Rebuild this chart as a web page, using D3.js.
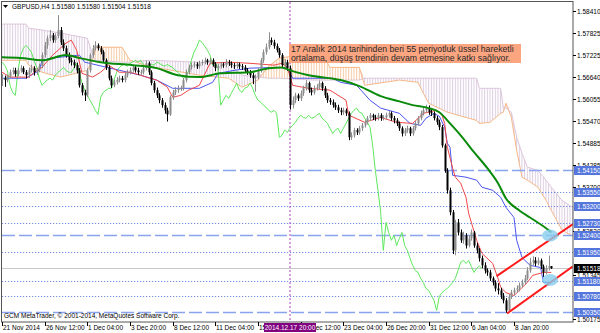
<!DOCTYPE html>
<html>
<head>
<meta charset="utf-8">
<script src="https://cdnjs.cloudflare.com/ajax/libs/d3/7.8.5/d3.min.js"></script>
<style>
body{margin:0;background:#fff}
svg{display:block}
text{font-family:"Liberation Sans",Arial,sans-serif}
</style>
</head>
<body>
<script>
// GBPUSD H4, one value per bar (bar 0 = 21 Nov 2014 20:00)
const closes = [
1.5661,1.5656,1.5666,1.5677,1.5682,1.5672,1.5682,1.5688,1.5677,1.5669,
1.5682,1.5688,1.5677,1.5682,1.5693,1.5723,1.5749,1.5768,1.5776,1.5763,
1.5774,1.5790,1.5757,1.5741,1.5723,1.5709,1.5704,1.5696,1.5682,1.5642,
1.5623,1.5615,1.5682,1.5723,1.5741,1.5749,1.5741,1.5731,1.5709,1.5690,
1.5661,1.5642,1.5650,1.5656,1.5661,1.5656,1.5669,1.5677,1.5682,1.5690,
1.5682,1.5677,1.5677,1.5688,1.5701,1.5677,1.5648,1.5629,1.5615,1.5602,
1.5589,1.5575,1.5564,1.5610,1.5623,1.5629,1.5634,1.5634,1.5656,1.5677,
1.5690,1.5696,1.5698,1.5693,1.5701,1.5704,1.5709,1.5704,1.5709,1.5698,
1.5688,1.5693,1.5698,1.5696,1.5704,1.5701,1.5696,1.5693,1.5698,1.5693,
1.5690,1.5682,1.5677,1.5669,1.5661,1.5664,1.5682,1.5709,1.5731,1.5744,
1.5763,1.5757,1.5747,1.5736,1.5723,1.5696,1.5704,1.5688,1.5589,1.5602,
1.5615,1.5607,1.5621,1.5634,1.5648,1.5629,1.5623,1.5634,1.5637,1.5648,
1.5634,1.5615,1.5602,1.5597,1.5589,1.5583,1.5575,1.5570,1.5575,1.5567,
1.5503,1.5508,1.5522,1.5516,1.5527,1.5535,1.5543,1.5554,1.5562,1.5556,
1.5554,1.5562,1.5554,1.5556,1.5562,1.5567,1.5554,1.5548,1.5540,1.5527,
1.5513,1.5522,1.5527,1.5513,1.5527,1.5540,1.5554,1.5567,1.5575,1.5581,
1.5570,1.5567,1.5554,1.5543,1.5530,1.5481,1.5414,1.5361,1.5302,1.5200,
1.5275,1.5248,1.5227,1.5240,1.5213,1.5232,1.5248,1.5213,1.5200,1.5179,
1.5160,1.5146,1.5141,1.5125,1.5114,1.5098,1.5093,1.5079,1.5066,1.5039,
1.5077,1.5087,1.5093,1.5098,1.5106,1.5114,1.5125,1.5146,1.5168,1.5173,
1.5165,1.5173,1.5157,1.5141,1.5152,1.5158,1.51518
]
const highs = [
1.5672,1.5668,1.5671,1.5684,1.5690,1.5689,1.5688,1.5696,1.5693,1.5683,
1.5690,1.5697,1.5693,1.5689,1.5700,1.5730,1.5758,1.5775,1.5790,1.5782,
1.5781,1.5830,1.5798,1.5765,1.5748,1.5730,1.5716,1.5711,1.5703,1.5688,
1.5648,1.5630,1.5688,1.5728,1.5750,1.5760,1.5754,1.5747,1.5736,1.5714,
1.5695,1.5668,1.5657,1.5664,1.5668,1.5667,1.5675,1.5684,1.5690,1.5697,
1.5696,1.5689,1.5684,1.5694,1.5708,1.5706,1.5682,1.5654,1.5636,1.5621,
1.5608,1.5596,1.5582,1.5615,1.5630,1.5637,1.5642,1.5641,1.5662,1.5684,
1.5697,1.5703,1.5706,1.5704,1.5708,1.5711,1.5716,1.5713,1.5716,1.5714,
1.5704,1.5699,1.5705,1.5703,1.5712,1.5710,1.5706,1.5702,1.5705,1.5703,
1.5699,1.5696,1.5688,1.5683,1.5675,1.5671,1.5688,1.5715,1.5738,1.5754,
1.5784,1.5770,1.5764,1.5754,1.5742,1.5728,1.5712,1.5710,1.5695,1.5612,
1.5622,1.5620,1.5628,1.5641,1.5656,1.5652,1.5636,1.5641,1.5645,1.5655,
1.5652,1.5640,1.5622,1.5608,1.5604,1.5596,1.5590,1.5582,1.5582,1.5580,
1.5572,1.5516,1.5528,1.5527,1.5533,1.5541,1.5549,1.5560,1.5568,1.5566,
1.5563,1.5568,1.5567,1.5562,1.5569,1.5574,1.5572,1.5560,1.5554,1.5545,
1.5532,1.5528,1.5534,1.5531,1.5533,1.5546,1.5560,1.5574,1.5583,1.5590,
1.5588,1.5578,1.5572,1.5560,1.5550,1.5536,1.5486,1.5420,1.5368,1.5308,
1.5282,1.5284,1.5256,1.5250,1.5246,1.5240,1.5256,1.5252,1.5220,1.5206,
1.5186,1.5168,1.5152,1.5148,1.5130,1.5120,1.5112,1.5100,1.5086,1.5072,
1.5083,1.5094,1.5100,1.5106,1.5114,1.5122,1.5134,1.5155,1.5180,1.5184,
1.5182,1.5181,1.5178,1.5162,1.5160,1.5186,1.51580
]
const lows = [
1.5640,1.5638,1.5650,1.5660,1.5671,1.5665,1.5666,1.5676,1.5672,1.5660,
1.5662,1.5676,1.5668,1.5670,1.5677,1.5688,1.5716,1.5740,1.5760,1.5756,
1.5756,1.5768,1.5750,1.5734,1.5716,1.5701,1.5695,1.5688,1.5674,1.5636,
1.5615,1.5600,1.5610,1.5676,1.5716,1.5735,1.5735,1.5725,1.5702,1.5683,
1.5655,1.5635,1.5637,1.5644,1.5650,1.5650,1.5650,1.5663,1.5671,1.5676,
1.5676,1.5670,1.5670,1.5671,1.5682,1.5670,1.5642,1.5622,1.5608,1.5594,
1.5582,1.5566,1.5545,1.5560,1.5603,1.5616,1.5622,1.5627,1.5628,1.5650,
1.5671,1.5684,1.5689,1.5686,1.5687,1.5695,1.5698,1.5697,1.5698,1.5692,
1.5680,1.5682,1.5687,1.5689,1.5690,1.5694,1.5689,1.5686,1.5687,1.5686,
1.5683,1.5675,1.5670,1.5662,1.5645,1.5625,1.5658,1.5676,1.5702,1.5724,
1.5738,1.5750,1.5740,1.5730,1.5716,1.5690,1.5690,1.5681,1.5577,1.5580,
1.5594,1.5600,1.5600,1.5614,1.5628,1.5622,1.5615,1.5617,1.5628,1.5631,
1.5627,1.5608,1.5595,1.5590,1.5582,1.5576,1.5568,1.5562,1.5563,1.5560,
1.5495,1.5496,1.5502,1.5509,1.5510,1.5520,1.5529,1.5537,1.5547,1.5549,
1.5547,1.5548,1.5547,1.5548,1.5550,1.5555,1.5547,1.5540,1.5533,1.5520,
1.5505,1.5506,1.5515,1.5506,1.5507,1.5521,1.5534,1.5548,1.5561,1.5569,
1.5563,1.5560,1.5548,1.5536,1.5522,1.5475,1.5408,1.5352,1.5294,1.5190,
1.5187,1.5240,1.5220,1.5218,1.5205,1.5208,1.5226,1.5207,1.5192,1.5170,
1.5152,1.5138,1.5132,1.5118,1.5106,1.5090,1.5082,1.5070,1.5058,1.5033,
1.5036,1.5070,1.5080,1.5086,1.5090,1.5100,1.5108,1.5120,1.5140,1.5160,
1.5158,1.5160,1.5150,1.5128,1.5136,1.5146,1.51504
]

// indicator vertices as [bar, price]
const tenkan = [[0,1.5677],[3,1.5664],[10,1.5664],[13,1.5682],[15,1.5690],[19,1.5723],[24,1.5755],[26,1.5763],[28,1.5736],[30,1.5674],[34,1.5664],[37,1.5677],[40,1.5696],[44,1.5677],[48,1.5677],[52,1.5669],[54,1.5664],[58,1.5656],[62,1.5637],[64,1.5610],[67,1.5615],[70,1.5629],[74,1.5642],[78,1.5701],[85,1.5704],[93,1.5701],[102,1.5696],[105,1.5701],[107,1.5690],[109,1.5642],[115,1.5634],[123,1.5629],[129,1.5602],[130,1.5562],[136,1.5543],[142,1.5556],[148,1.5543],[154,1.5540],[158,1.5567],[163,1.5575],[165,1.5562],[166,1.5540],[167,1.5476],[169,1.5420],[170,1.5396],[172,1.5380],[174,1.5342],[175,1.5299],[178,1.5227],[180,1.5192],[184,1.5165],[186,1.5125],[187,1.5101],[189,1.5087],[192,1.5079],[194,1.5093],[197,1.5114],[199,1.5133],[203,1.5141],[206,1.5141]]

const kijun = [[0,1.5661],[9,1.5661],[14,1.5682],[15,1.5709],[19,1.5715],[29,1.5723],[31,1.5704],[52,1.5669],[58,1.5656],[64,1.5634],[74,1.5634],[79,1.5650],[81,1.5674],[87,1.5682],[93,1.5688],[103,1.5690],[107,1.5688],[109,1.5661],[124,1.5661],[127,1.5650],[133,1.5642],[138,1.5602],[142,1.5581],[149,1.5567],[153,1.5540],[157,1.5535],[159,1.5554],[162,1.5567],[164,1.5559],[166,1.5530],[167,1.5487],[168,1.5476],[169,1.5401],[174,1.5396],[178,1.5388],[180,1.5369],[184,1.5361],[187,1.5342],[189,1.5315],[192,1.5288],[193,1.5227],[195,1.5181],[198,1.5160],[202,1.5154],[203,1.5114],[206,1.5114]]

const ema55 = [[0,1.5717],[7,1.5715],[15,1.5709],[24,1.5723],[29,1.5715],[37,1.5704],[49,1.5696],[58,1.5688],[66,1.5669],[74,1.5664],[82,1.5674],[93,1.5677],[100,1.5688],[105,1.5690],[108,1.5682],[115,1.5669],[127,1.5656],[134,1.5640],[142,1.5613],[149,1.5599],[154,1.5589],[160,1.5581],[164,1.5570],[168,1.5540],[172,1.5508],[177,1.5463],[182,1.5420],[186,1.5380],[189,1.5339],[194,1.5307],[198,1.5288],[205,1.5254],[206,1.5248]]

// Senkou spans (already shifted 26 bars ahead)
const spanBars = [0,9,10,15,22,32,34,35,45,48,55,74,85,90,96,100,104,117,120,123,134,136,149,156,158,160,167,178,179,183,187,188,189,191,193,195,197,201,204,206,210,214]
const spanA = [1.5709,1.5709,1.5696,1.5677,1.5664,1.5682,1.5709,1.5744,1.5744,1.5709,1.5693,1.5669,1.5661,1.5637,1.5656,1.5693,1.5715,1.5728,1.5728,1.5690,1.5690,1.5642,1.5656,1.5650,1.5621,1.5594,1.5570,1.5548,1.5540,1.5543,1.5567,1.5570,1.5594,1.5556,1.5468,1.5396,1.5388,1.5369,1.5334,1.5307,1.5254,1.5238]
const spanB = [1.5806,1.5806,1.5795,1.5790,1.5782,1.5768,1.5723,1.5709,1.5704,1.5704,1.5709,1.5704,1.5701,1.5669,1.5664,1.5661,1.5661,1.5656,1.5656,1.5656,1.5656,1.5661,1.5661,1.5661,1.5661,1.5661,1.5661,1.5661,1.5634,1.5634,1.5634,1.5581,1.5581,1.5570,1.5503,1.5460,1.5423,1.5414,1.5388,1.5369,1.5334,1.5315]

const dashedLevels = [1.5415, 1.5240, 1.5035]
const dottedLevels = [1.5355, 1.5320, 1.5273, 1.5195, 1.5118, 1.5078]
const lastPrice = 1.51518
const priceTicks = [1.58410,1.57825,1.57225,1.56640,1.56055,1.55470,1.54885,1.54285,1.53700,1.52530,1.51345,1.50175]

const timeTickBars = [0,16,32,48,64,80,96,112,128,144,160,176,192]
const timeTickLabels = ['21 Nov 2014','26 Nov 12:00','1 Dec 04:00','3 Dec 20:00','8 Dec 12:00','11 Dec 04:00','15 Dec 20:00','18 Dec 12:00','23 Dec 04:00','26 Dec 20:00','31 Dec 12:00','6 Jan 04:00','8 Jan 20:00']
const markerBar = 108
const markerLabel = '2014.12.17 20:00'

// red channel, [bar, price] end points
const channelUpper = [[185.5,1.5131],[214,1.5270]]
const channelLower = [[189.4,1.5031],[214,1.5157]]
const circleSpots = [[205.5,1.5240],[205.5,1.5121]]

const title = 'GBPUSD,H4  1.51580 1.51580 1.51504 1.51518'
const noteLines = ['17 Aralık 2014 tarihinden beri 55 periyotluk üssel hareketli','ortalama, düşüş trendinin devam etmesine katkı sağlıyor.']
const copyright = 'GCM MetaTrader, © 2001-2014, MetaQuotes Software Corp.'

let width = 600
let height = 333
let plotL = 2, plotR = 573, plotT = 2, plotB = 322

let svg = d3.select('body').append('svg').attr('width',width).attr('height',height)
svg.append('rect').attr('width',width).attr('height',height).attr('fill','#fff')

let xScale = d3.scaleLinear().domain([0,192]).range([2,514])
let yScale = d3.scaleLinear().domain([1.5035,1.5841]).range([312,11])

svg.append('clipPath').attr('id','plot')
   .append('rect').attr('x',plotL).attr('y',plotT).attr('width',plotR-plotL).attr('height',plotB-plotT)

let defs = svg.append('defs')
let hatch = (id,color) =>{
    let step = xScale(1)-xScale(0)
    let p = defs.append('pattern').attr('id',id).attr('patternUnits','userSpaceOnUse')
                .attr('x',xScale(0)-0.5).attr('y',0).attr('width',step).attr('height',10)
    p.append('rect').attr('x',0).attr('y',0).attr('width',1).attr('height',10).attr('fill',color)
}
hatch('hatchA','#f7c9a3')
hatch('hatchB','#dccbe0')

let g = svg.append('g').attr('clip-path','url(#plot)')

// cloud
let cloud = spanBars.map((b,i)=>({b:b, a:spanA[i], s:spanB[i]}))
let areaA = d3.area().x(d=>xScale(d.b))
              .y0(d=>yScale(d.s)).y1(d=>Math.min(yScale(d.a),yScale(d.s)))
let areaB = d3.area().x(d=>xScale(d.b))
              .y0(d=>yScale(d.a)).y1(d=>Math.min(yScale(d.a),yScale(d.s)))
g.append('path').attr('d',areaA(cloud)).attr('fill','url(#hatchA)')
g.append('path').attr('d',areaB(cloud)).attr('fill','url(#hatchB)')
g.append('path').attr('d',d3.line().x(d=>xScale(d.b)).y(d=>yScale(d.a))(cloud))
 .attr('fill','none').attr('stroke','#f6b886').attr('stroke-width',1)
g.append('path').attr('d',d3.line().x(d=>xScale(d.b)).y(d=>yScale(d.s))(cloud))
 .attr('fill','none').attr('stroke','#dcc6dc').attr('stroke-width',1)

// horizontal levels
let levelY = v => Math.round(yScale(v))+0.5
g.selectAll('.dash').data(dashedLevels).enter().append('line')
 .attr('x1',plotL).attr('x2',plotR).attr('y1',levelY).attr('y2',levelY)
 .attr('stroke','#8aa3ee').attr('stroke-width',1.4).attr('stroke-dasharray','13,4')
g.selectAll('.dot').data(dottedLevels).enter().append('line')
 .attr('x1',plotL).attr('x2',plotR).attr('y1',levelY).attr('y2',levelY)
 .attr('stroke','#6f8ce6').attr('stroke-width',1.1).attr('stroke-dasharray','1.2,1.8')
g.append('line').attr('x1',plotL).attr('x2',plotR)
 .attr('y1',levelY(lastPrice)).attr('y2',levelY(lastPrice))
 .attr('stroke','#c8c8c8').attr('stroke-width',1)

// marker line
g.append('line').attr('x1',xScale(markerBar)).attr('x2',xScale(markerBar)).attr('y1',plotT).attr('y2',plotB)
 .attr('stroke','#b040c0').attr('stroke-width',1).attr('stroke-dasharray','2,2')

// ichimoku lines
let pairLine = d3.line().x(d=>xScale(d[0])).y(d=>yScale(d[1]))
let chikou = closes.slice(26).map((c,i)=>[i,c])
g.append('path').attr('d',pairLine(chikou)).attr('fill','none').attr('stroke','#5ee85e').attr('stroke-width',1)
g.append('path').attr('d',pairLine(kijun)).attr('fill','none').attr('stroke','#4a55f0').attr('stroke-width',1)
g.append('path').attr('d',pairLine(tenkan)).attr('fill','none').attr('stroke','#f04848').attr('stroke-width',1)

// candles, open = previous close (last bar open from the title)
let candles = closes.map((c,i)=>{
    let o = i==0 ? c : closes[i-1]
    return {i:i, o:o, c:c, h:Math.max(highs[i],o,c), l:Math.min(lows[i],o,c)}
})
candles[candles.length-1].o = 1.51580

let cg = g.append('g')
cg.selectAll('line').data(candles).enter().append('line')
  .attr('x1',d=>Math.round(xScale(d.i))+0.5).attr('x2',d=>Math.round(xScale(d.i))+0.5)
  .attr('y1',d=>yScale(d.h)).attr('y2',d=>yScale(d.l))
  .attr('stroke',d=>d.c>=d.o ? '#8c8c8c' : '#000').attr('stroke-width',1)
cg.selectAll('rect').data(candles).enter().append('rect')
  .attr('x',d=>Math.round(xScale(d.i))-0.5).attr('width',2)
  .attr('y',d=>yScale(Math.max(d.o,d.c))).attr('height',d=>Math.max(1,yScale(Math.min(d.o,d.c))-yScale(Math.max(d.o,d.c))))
  .attr('fill',d=>d.c>=d.o ? '#8c8c8c' : '#000')

// ema 55
g.append('path').attr('d',d3.line().x(d=>xScale(d[0])).y(d=>yScale(d[1])).curve(d3.curveMonotoneX)(ema55))
 .attr('fill','none').attr('stroke','#0a8a0a').attr('stroke-width',2)

// channel
;[channelUpper,channelLower].forEach(c=>{
    g.append('line').attr('x1',xScale(c[0][0])).attr('y1',yScale(c[0][1]))
     .attr('x2',xScale(c[1][0])).attr('y2',yScale(c[1][1]))
     .attr('stroke','#ff1a1a').attr('stroke-width',2)
})
g.selectAll('ellipse').data(circleSpots).enter().append('ellipse')
 .attr('cx',d=>xScale(d[0])).attr('cy',d=>yScale(d[1])).attr('rx',8).attr('ry',6)
 .attr('fill','#87cdee').attr('fill-opacity',0.8)

// note
svg.append('rect').attr('x',289).attr('y',44).attr('width',232).attr('height',19).attr('fill','#fba581')
noteLines.forEach((t,i)=>{
    svg.append('text').attr('x',291).attr('y',52+i*9).attr('font-size',8.7).attr('fill','#2a2a2a').text(t)
})

// frame
svg.append('rect').attr('x',1.5).attr('y',1.5).attr('width',plotR-1.5).attr('height',plotB-1.5)
 .attr('fill','none').attr('stroke','#555').attr('stroke-width',1)

// title and copyright
svg.append('path').attr('d','M3,5 L8,5 L5.5,8 Z').attr('fill','#000')
svg.append('text').attr('x',12).attr('y',9).attr('font-size',6.5).attr('fill','#000').text(title)
svg.append('text').attr('x',4).attr('y',318).attr('font-size',6.5).attr('fill','#000').text(copyright)

// price axis
priceTicks.forEach(v=>{
    let yy = levelY(v)
    svg.append('line').attr('x1',plotR).attr('x2',plotR+3).attr('y1',yy).attr('y2',yy).attr('stroke','#000')
    svg.append('text').attr('x',577).attr('y',yy+2.3).attr('font-size',6.5).attr('fill','#000').text(v.toFixed(5))
})
let levelBox = (v,fill) =>{
    let yy = levelY(v)
    svg.append('rect').attr('x',574).attr('y',yy-4.5).attr('width',26).attr('height',9).attr('fill',fill)
    svg.append('text').attr('x',577).attr('y',yy+2.3).attr('font-size',6.5).attr('fill','#fff').text(v.toFixed(5))
}
dashedLevels.concat(dottedLevels).forEach(v=>levelBox(v,'#5577dd'))
levelBox(lastPrice,'#000')

// time axis
timeTickBars.forEach((b,i)=>{
    let xx = Math.round(xScale(b))+0.5
    svg.append('line').attr('x1',xx).attr('x2',xx).attr('y1',plotB).attr('y2',plotB+4).attr('stroke','#000')
    svg.append('text').attr('x',xx+0.5).attr('y',330).attr('font-size',6.5).attr('fill','#000').text(timeTickLabels[i])
})
let mx = xScale(markerBar)
svg.append('rect').attr('x',mx-26).attr('y',323).attr('width',52).attr('height',9).attr('fill','#800080')
svg.append('text').attr('x',mx).attr('y',330).attr('text-anchor','middle').attr('font-size',6.5).attr('fill','#fff').text(markerLabel)
</script>
</body>
</html>
